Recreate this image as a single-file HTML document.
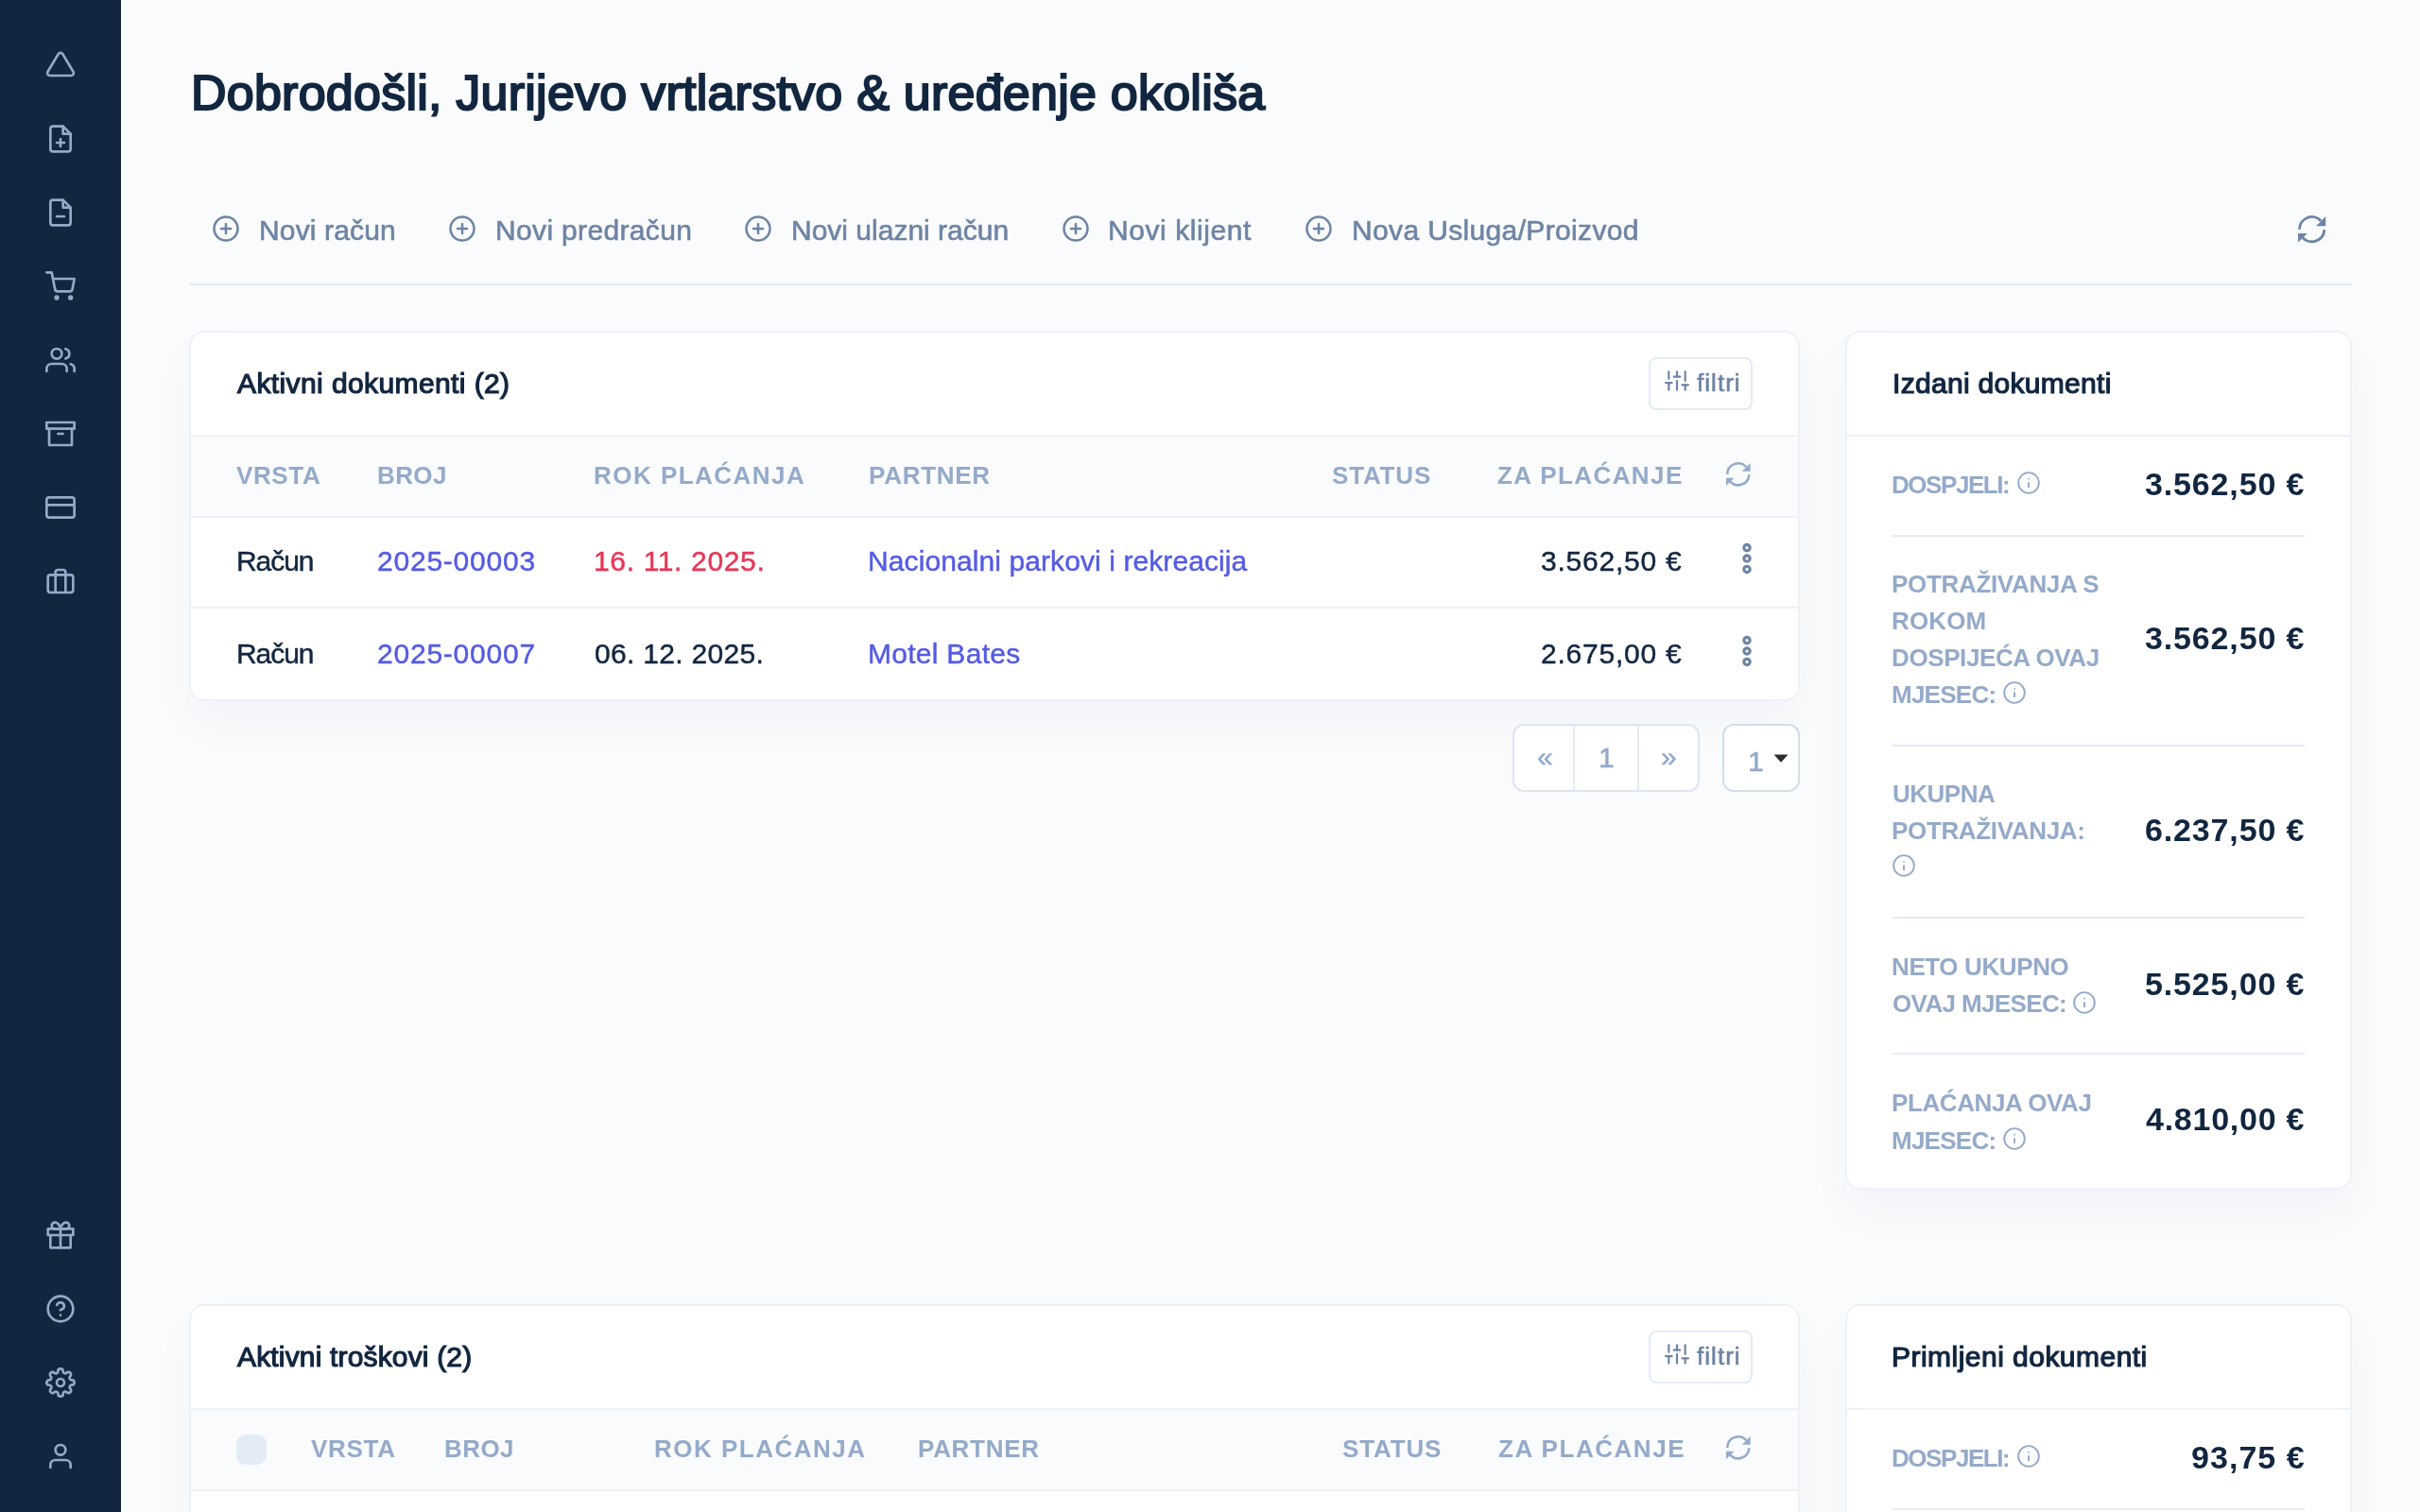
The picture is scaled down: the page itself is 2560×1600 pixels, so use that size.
<!DOCTYPE html>
<html lang="hr">
<head>
<meta charset="utf-8">
<title>Nadzorna ploča</title>
<style>
*{box-sizing:border-box}
html,body{margin:0;padding:0}
body{width:2560px;height:1600px;overflow:hidden;position:relative;background:#F9FBFD;color:#12263F;
 font-family:"Liberation Sans",sans-serif;font-size:30px;-webkit-font-smoothing:antialiased}
.t{position:absolute;white-space:pre;line-height:1;margin:0;font-weight:400;will-change:transform}
a.t{text-decoration:none}
.fe{position:absolute;display:block;overflow:visible}
#sidebar{position:absolute;left:0;top:0;width:128px;height:1600px;background:#12263F}
.hr{position:absolute;height:2px;background:#E3EBF6}
.card{position:absolute;background:#fff;border:2px solid #EDF2F9;border-radius:16px;box-shadow:0 24px 48px rgba(18,38,63,.03)}
.line{position:absolute;left:0;right:0;height:2px;background:#EDF2F9}
.thead{position:absolute;left:0;right:0;background:#F9FBFD}
.btn{position:absolute;border:2px solid #E3EBF6;border-radius:8px;background:#fff}
.pg{position:absolute;border:2px solid #E3EBF6;background:#fff}
.chk{position:absolute;width:32px;height:32px;border-radius:10px;background:#E3EBF6}
</style>
</head>
<body>

<nav id="sidebar">
<svg class="fe" style="left:48.00px;top:52.00px;width:32px;height:32px;color:#95AAC9" viewBox="0 0 24 24" fill="none" stroke="currentColor" stroke-width="2" stroke-linecap="round" stroke-linejoin="round"><path d="M10.29 3.86L1.82 18a2 2 0 0 0 1.71 3h16.94a2 2 0 0 0 1.71-3L13.71 3.86a2 2 0 0 0-3.42 0z"/></svg>
<svg class="fe" style="left:48.00px;top:130.60px;width:32px;height:32px;color:#95AAC9" viewBox="0 0 24 24" fill="none" stroke="currentColor" stroke-width="2" stroke-linecap="round" stroke-linejoin="round"><path d="M14 2H6a2 2 0 0 0-2 2v16a2 2 0 0 0 2 2h12a2 2 0 0 0 2-2V8z"/><polyline points="14 2 14 8 20 8"/><line x1="12" y1="18" x2="12" y2="12"/><line x1="9" y1="15" x2="15" y2="15"/></svg>
<svg class="fe" style="left:48.00px;top:208.60px;width:32px;height:32px;color:#95AAC9" viewBox="0 0 24 24" fill="none" stroke="currentColor" stroke-width="2" stroke-linecap="round" stroke-linejoin="round"><path d="M14 2H6a2 2 0 0 0-2 2v16a2 2 0 0 0 2 2h12a2 2 0 0 0 2-2V8z"/><polyline points="14 2 14 8 20 8"/><line x1="9" y1="15" x2="15" y2="15"/></svg>
<svg class="fe" style="left:48.00px;top:286.60px;width:32px;height:32px;color:#95AAC9" viewBox="0 0 24 24" fill="none" stroke="currentColor" stroke-width="2" stroke-linecap="round" stroke-linejoin="round"><circle cx="9" cy="21" r="1"/><circle cx="20" cy="21" r="1"/><path d="M1 1h4l2.68 13.39a2 2 0 0 0 2 1.61h9.72a2 2 0 0 0 2-1.61L23 6H6"/></svg>
<svg class="fe" style="left:48.00px;top:364.60px;width:32px;height:32px;color:#95AAC9" viewBox="0 0 24 24" fill="none" stroke="currentColor" stroke-width="2" stroke-linecap="round" stroke-linejoin="round"><path d="M17 21v-2a4 4 0 0 0-4-4H5a4 4 0 0 0-4 4v2"/><circle cx="9" cy="7" r="4"/><path d="M23 21v-2a4 4 0 0 0-3-3.87"/><path d="M16 3.13a4 4 0 0 1 0 7.75"/></svg>
<svg class="fe" style="left:48.00px;top:442.60px;width:32px;height:32px;color:#95AAC9" viewBox="0 0 24 24" fill="none" stroke="currentColor" stroke-width="2" stroke-linecap="round" stroke-linejoin="round"><polyline points="21 8 21 21 3 21 3 8"/><rect x="1" y="3" width="22" height="5"/><line x1="10" y1="12" x2="14" y2="12"/></svg>
<svg class="fe" style="left:48.00px;top:520.60px;width:32px;height:32px;color:#95AAC9" viewBox="0 0 24 24" fill="none" stroke="currentColor" stroke-width="2" stroke-linecap="round" stroke-linejoin="round"><rect x="1" y="4" width="22" height="16" rx="2" ry="2"/><line x1="1" y1="10" x2="23" y2="10"/></svg>
<svg class="fe" style="left:48.00px;top:598.60px;width:32px;height:32px;color:#95AAC9" viewBox="0 0 24 24" fill="none" stroke="currentColor" stroke-width="2" stroke-linecap="round" stroke-linejoin="round"><rect x="2" y="7" width="20" height="14" rx="2" ry="2"/><path d="M16 21V5a2 2 0 0 0-2-2h-4a2 2 0 0 0-2 2v16"/></svg>
<svg class="fe" style="left:48.00px;top:1291.10px;width:32px;height:32px;color:#95AAC9" viewBox="0 0 24 24" fill="none" stroke="currentColor" stroke-width="2" stroke-linecap="round" stroke-linejoin="round"><polyline points="20 12 20 22 4 22 4 12"/><rect x="2" y="7" width="20" height="5"/><line x1="12" y1="22" x2="12" y2="7"/><path d="M12 7H7.5a2.5 2.5 0 0 1 0-5C11 2 12 7 12 7z"/><path d="M12 7h4.5a2.5 2.5 0 0 0 0-5C13 2 12 7 12 7z"/></svg>
<svg class="fe" style="left:48.00px;top:1369.10px;width:32px;height:32px;color:#95AAC9" viewBox="0 0 24 24" fill="none" stroke="currentColor" stroke-width="2" stroke-linecap="round" stroke-linejoin="round"><circle cx="12" cy="12" r="10"/><path d="M9.09 9a3 3 0 0 1 5.83 1c0 2-3 3-3 3"/><line x1="12" y1="17" x2="12.01" y2="17"/></svg>
<svg class="fe" style="left:48.00px;top:1447.10px;width:32px;height:32px;color:#95AAC9" viewBox="0 0 24 24" fill="none" stroke="currentColor" stroke-width="2" stroke-linecap="round" stroke-linejoin="round"><circle cx="12" cy="12" r="3"/><path d="M19.4 15a1.65 1.65 0 0 0 .33 1.82l.06.06a2 2 0 0 1 0 2.83 2 2 0 0 1-2.83 0l-.06-.06a1.65 1.65 0 0 0-1.82-.33 1.65 1.65 0 0 0-1 1.51V21a2 2 0 0 1-2 2 2 2 0 0 1-2-2v-.09A1.65 1.65 0 0 0 9 19.4a1.65 1.65 0 0 0-1.82.33l-.06.06a2 2 0 0 1-2.83 0 2 2 0 0 1 0-2.83l.06-.06a1.65 1.65 0 0 0 .33-1.82 1.65 1.65 0 0 0-1.51-1H3a2 2 0 0 1-2-2 2 2 0 0 1 2-2h.09A1.65 1.65 0 0 0 4.6 9a1.65 1.65 0 0 0-.33-1.82l-.06-.06a2 2 0 0 1 0-2.83 2 2 0 0 1 2.83 0l.06.06a1.65 1.65 0 0 0 1.82.33H9a1.65 1.65 0 0 0 1-1.51V3a2 2 0 0 1 2-2 2 2 0 0 1 2 2v.09a1.65 1.65 0 0 0 1 1.51 1.65 1.65 0 0 0 1.82-.33l.06-.06a2 2 0 0 1 2.83 0 2 2 0 0 1 0 2.83l-.06.06a1.65 1.65 0 0 0-.33 1.82V9a1.65 1.65 0 0 0 1.51 1H21a2 2 0 0 1 2 2 2 2 0 0 1-2 2h-.09a1.65 1.65 0 0 0-1.51 1z"/></svg>
<svg class="fe" style="left:48.00px;top:1525.10px;width:32px;height:32px;color:#95AAC9" viewBox="0 0 24 24" fill="none" stroke="currentColor" stroke-width="2" stroke-linecap="round" stroke-linejoin="round"><path d="M20 21v-2a4 4 0 0 0-4-4H8a4 4 0 0 0-4 4v2"/><circle cx="12" cy="7" r="4"/></svg>
</nav>
<header>
<h1 id="title" class="t" style="top:71.78px;font-size:52px;color:#12263F;letter-spacing:0.241px;-webkit-text-stroke:2.1px #12263F;left:201.80px;">Dobrodošli, Jurijevo vrtlarstvo &amp; uređenje okoliša</h1>
<svg class="fe" style="left:224.10px;top:226.90px;width:30px;height:30px;color:#6E84A3" viewBox="0 0 24 24" fill="none" stroke="currentColor" stroke-width="2" stroke-linecap="round" stroke-linejoin="round"><circle cx="12" cy="12" r="10"/><line x1="12" y1="8" x2="12" y2="16"/><line x1="8" y1="12" x2="16" y2="12"/></svg>
<a id="a1" class="t" style="top:228.60px;font-size:30px;color:#6E84A3;letter-spacing:0.144px;-webkit-text-stroke:0.6px #6E84A3;left:274.00px;">Novi račun</a>
<svg class="fe" style="left:474.20px;top:226.90px;width:30px;height:30px;color:#6E84A3" viewBox="0 0 24 24" fill="none" stroke="currentColor" stroke-width="2" stroke-linecap="round" stroke-linejoin="round"><circle cx="12" cy="12" r="10"/><line x1="12" y1="8" x2="12" y2="16"/><line x1="8" y1="12" x2="16" y2="12"/></svg>
<a id="a2" class="t" style="top:228.60px;font-size:30px;color:#6E84A3;letter-spacing:0.346px;-webkit-text-stroke:0.6px #6E84A3;left:524.00px;">Novi predračun</a>
<svg class="fe" style="left:787.40px;top:226.90px;width:30px;height:30px;color:#6E84A3" viewBox="0 0 24 24" fill="none" stroke="currentColor" stroke-width="2" stroke-linecap="round" stroke-linejoin="round"><circle cx="12" cy="12" r="10"/><line x1="12" y1="8" x2="12" y2="16"/><line x1="8" y1="12" x2="16" y2="12"/></svg>
<a id="a3" class="t" style="top:228.60px;font-size:30px;color:#6E84A3;-webkit-text-stroke:0.6px #6E84A3;left:837.00px;">Novi ulazni račun</a>
<svg class="fe" style="left:1122.90px;top:226.90px;width:30px;height:30px;color:#6E84A3" viewBox="0 0 24 24" fill="none" stroke="currentColor" stroke-width="2" stroke-linecap="round" stroke-linejoin="round"><circle cx="12" cy="12" r="10"/><line x1="12" y1="8" x2="12" y2="16"/><line x1="8" y1="12" x2="16" y2="12"/></svg>
<a id="a4" class="t" style="top:228.60px;font-size:30px;color:#6E84A3;letter-spacing:0.564px;-webkit-text-stroke:0.6px #6E84A3;left:1172.00px;">Novi klijent</a>
<svg class="fe" style="left:1380.00px;top:226.90px;width:30px;height:30px;color:#6E84A3" viewBox="0 0 24 24" fill="none" stroke="currentColor" stroke-width="2" stroke-linecap="round" stroke-linejoin="round"><circle cx="12" cy="12" r="10"/><line x1="12" y1="8" x2="12" y2="16"/><line x1="8" y1="12" x2="16" y2="12"/></svg>
<a id="a5" class="t" style="top:228.60px;font-size:30px;color:#6E84A3;letter-spacing:0.353px;-webkit-text-stroke:0.6px #6E84A3;left:1429.80px;">Nova Usluga/Proizvod</a>
<svg class="fe" style="left:2430.90px;top:227.90px;width:29.2px;height:29.2px;color:#6E84A3" viewBox="0 0 24 24"><path d="M1.2 12.2A10.8 10.8 0 0 1 19.9 4.7" fill="none" stroke="currentColor" stroke-width="2.4"/><polygon points="24,0.9 24,9.2 15.7,9.2" fill="currentColor"/><path d="M22.8 12.4A10.8 10.8 0 0 1 4.1 19.3" fill="none" stroke="currentColor" stroke-width="2.4"/><polygon points="0,15.7 8.1,15.7 0,23.4" fill="currentColor"/></svg>
<div class="hr" style="left:200px;top:300px;width:2288px"></div>
</header>
<section class="card" style="left:200px;top:350px;width:1704px;height:392px">
</section>
<div class="thead" style="left:202px;width:1700px;top:462px;height:84px"></div>
<div class="hr" style="left:202px;width:1700px;top:460px;background:#EDF2F9"></div>
<div class="hr" style="left:202px;width:1700px;top:546px;background:#EDF2F9"></div>
<h4 id="c1title" class="t" style="top:390.61px;font-size:30px;color:#12263F;letter-spacing:0.400px;-webkit-text-stroke:1.2px #12263F;left:251.00px;">Aktivni dokumenti (2)</h4>
<div class="btn" style="left:1744px;top:378px;width:110px;height:56px"></div>
<svg class="fe" style="left:1761.30px;top:390.00px;width:26px;height:26px;color:#6E84A3" viewBox="0 0 24 24" fill="none" stroke="currentColor" stroke-width="2" stroke-linecap="round" stroke-linejoin="round"><line x1="4" y1="21" x2="4" y2="14"/><line x1="4" y1="10" x2="4" y2="3"/><line x1="12" y1="21" x2="12" y2="12"/><line x1="12" y1="8" x2="12" y2="3"/><line x1="20" y1="21" x2="20" y2="16"/><line x1="20" y1="12" x2="20" y2="3"/><line x1="1" y1="14" x2="7" y2="14"/><line x1="9" y1="8" x2="15" y2="8"/><line x1="17" y1="16" x2="23" y2="16"/></svg>
<span id="c1filtri" class="t" style="top:391.59px;font-size:26px;color:#6E84A3;letter-spacing:1.040px;-webkit-text-stroke:0.6px #6E84A3;left:1794.60px;">filtri</span>
<span id="c1h1" class="t" style="top:489.99px;font-size:26px;color:#95AAC9;font-weight:700;letter-spacing:0.625px;left:250.00px;">VRSTA</span>
<span id="c1h2" class="t" style="top:489.99px;font-size:26px;color:#95AAC9;font-weight:700;letter-spacing:0.400px;left:398.60px;">BROJ</span>
<span id="c1h3" class="t" style="top:489.99px;font-size:26px;color:#95AAC9;font-weight:700;letter-spacing:1.473px;left:628.20px;">ROK PLAĆANJA</span>
<span id="c1h4" class="t" style="top:489.99px;font-size:26px;color:#95AAC9;font-weight:700;letter-spacing:0.733px;left:918.80px;">PARTNER</span>
<span id="c1h5" class="t" style="top:489.99px;font-size:26px;color:#95AAC9;font-weight:700;letter-spacing:0.820px;left:1409.40px;">STATUS</span>
<span id="c1h6" class="t" style="top:489.99px;font-size:26px;color:#95AAC9;font-weight:700;letter-spacing:1.420px;left:1584.20px;">ZA PLAĆANJE</span>
<svg class="fe" style="left:1826.20px;top:489.10px;width:25.6px;height:25.6px;color:#95AAC9" viewBox="0 0 24 24"><path d="M1.2 12.2A10.8 10.8 0 0 1 19.9 4.7" fill="none" stroke="currentColor" stroke-width="2.4"/><polygon points="24,0.9 24,9.2 15.7,9.2" fill="currentColor"/><path d="M22.8 12.4A10.8 10.8 0 0 1 4.1 19.3" fill="none" stroke="currentColor" stroke-width="2.4"/><polygon points="0,15.7 8.1,15.7 0,23.4" fill="currentColor"/></svg>
<div class="hr" style="left:202px;width:1700px;top:642px;background:#EDF2F9"></div>
<span id="r0a" class="t" style="top:578.61px;font-size:30px;color:#12263F;letter-spacing:-1.050px;-webkit-text-stroke:0.45px #12263F;left:250.00px;">Račun</span>
<a id="r0b" class="t" style="top:578.61px;font-size:30px;color:#555BE3;letter-spacing:0.778px;-webkit-text-stroke:0.45px #555BE3;left:399.00px;">2025-00003</a>
<span id="r0c" class="t" style="top:578.61px;font-size:30px;color:#E63757;letter-spacing:0.650px;-webkit-text-stroke:0.45px #E63757;left:628.00px;">16. 11. 2025.</span>
<a id="r0d" class="t" style="top:578.61px;font-size:30px;color:#555BE3;letter-spacing:0.093px;-webkit-text-stroke:0.45px #555BE3;left:918.00px;">Nacionalni parkovi i rekreacija</a>
<span id="r0e" class="t" style="top:578.61px;font-size:30px;color:#12263F;letter-spacing:0.778px;-webkit-text-stroke:0.45px #12263F;left:1630.00px;">3.562,50 €</span>
<svg class="fe" style="left:1841.70px;top:573.40px;width:12px;height:36px;color:#6E84A3" viewBox="0 0 12 36" fill="none" stroke="currentColor" stroke-width="3.15"><circle cx="6" cy="6.6" r="3.18"/><circle cx="6" cy="18" r="3.18"/><circle cx="6" cy="29.4" r="3.18"/></svg>
<span id="r1a" class="t" style="top:676.61px;font-size:30px;color:#12263F;letter-spacing:-1.050px;-webkit-text-stroke:0.45px #12263F;left:250.00px;">Račun</span>
<a id="r1b" class="t" style="top:676.61px;font-size:30px;color:#555BE3;letter-spacing:0.778px;-webkit-text-stroke:0.45px #555BE3;left:399.00px;">2025-00007</a>
<span id="r1c" class="t" style="top:676.61px;font-size:30px;color:#12263F;letter-spacing:0.317px;-webkit-text-stroke:0.45px #12263F;left:629.00px;">06. 12. 2025.</span>
<a id="r1d" class="t" style="top:676.61px;font-size:30px;color:#555BE3;letter-spacing:0.280px;-webkit-text-stroke:0.45px #555BE3;left:918.00px;">Motel Bates</a>
<span id="r1e" class="t" style="top:676.61px;font-size:30px;color:#12263F;letter-spacing:0.778px;-webkit-text-stroke:0.45px #12263F;left:1630.00px;">2.675,00 €</span>
<svg class="fe" style="left:1841.70px;top:671.40px;width:12px;height:36px;color:#6E84A3" viewBox="0 0 12 36" fill="none" stroke="currentColor" stroke-width="3.15"><circle cx="6" cy="6.6" r="3.18"/><circle cx="6" cy="18" r="3.18"/><circle cx="6" cy="29.4" r="3.18"/></svg>
<div class="pg" style="left:1600px;top:766px;width:198px;height:72px;border-radius:12px;border-color:#DCE5F2"></div>
<div style="position:absolute;left:1664px;top:768px;width:2px;height:68px;background:#E3EBF6"></div>
<div style="position:absolute;left:1732px;top:768px;width:2px;height:68px;background:#E3EBF6"></div>
<span id="pg1" class="t" style="top:786.21px;font-size:30px;color:#95AAC9;-webkit-text-stroke:0.5px #95AAC9;left:1626.10px;">«</span>
<span id="pg2" class="t" style="top:786.61px;font-size:30px;color:#95AAC9;-webkit-text-stroke:0.5px #95AAC9;left:1691.20px;">1</span>
<span id="pg3" class="t" style="top:786.21px;font-size:30px;color:#95AAC9;-webkit-text-stroke:0.5px #95AAC9;left:1757.30px;">»</span>
<div class="pg" style="left:1822px;top:766px;width:82px;height:72px;border-radius:12px;border-color:#D2DDEC"></div>
<span id="sel" class="t" style="top:790.61px;font-size:30px;color:#95AAC9;-webkit-text-stroke:0.5px #95AAC9;left:1848.90px;">1</span>
<svg class="fe" style="left:1876px;top:797.5px;width:16px;height:9px" viewBox="0 0 16 9"><path d="M0.5 0.5h15L8 8.8z" fill="#2b2b2b"/></svg>
<section class="card" style="left:200px;top:1380px;width:1704px;height:400px">
</section>
<div class="thead" style="left:202px;width:1700px;top:1492px;height:84px"></div>
<div class="hr" style="left:202px;width:1700px;top:1490px;background:#EDF2F9"></div>
<div class="hr" style="left:202px;width:1700px;top:1576px;background:#EDF2F9"></div>
<h4 id="c2title" class="t" style="top:1420.61px;font-size:30px;color:#12263F;letter-spacing:0.163px;-webkit-text-stroke:1.2px #12263F;left:251.00px;">Aktivni troškovi (2)</h4>
<div class="btn" style="left:1744px;top:1408px;width:110px;height:56px"></div>
<svg class="fe" style="left:1761.30px;top:1420.00px;width:26px;height:26px;color:#6E84A3" viewBox="0 0 24 24" fill="none" stroke="currentColor" stroke-width="2" stroke-linecap="round" stroke-linejoin="round"><line x1="4" y1="21" x2="4" y2="14"/><line x1="4" y1="10" x2="4" y2="3"/><line x1="12" y1="21" x2="12" y2="12"/><line x1="12" y1="8" x2="12" y2="3"/><line x1="20" y1="21" x2="20" y2="16"/><line x1="20" y1="12" x2="20" y2="3"/><line x1="1" y1="14" x2="7" y2="14"/><line x1="9" y1="8" x2="15" y2="8"/><line x1="17" y1="16" x2="23" y2="16"/></svg>
<span id="c2filtri" class="t" style="top:1421.59px;font-size:26px;color:#6E84A3;letter-spacing:1.040px;-webkit-text-stroke:0.6px #6E84A3;left:1794.60px;">filtri</span>
<div class="chk" style="left:250px;top:1518px"></div>
<span id="c2h1" class="t" style="top:1519.99px;font-size:26px;color:#95AAC9;font-weight:700;letter-spacing:0.700px;left:329.40px;">VRSTA</span>
<span id="c2h2" class="t" style="top:1519.99px;font-size:26px;color:#95AAC9;font-weight:700;letter-spacing:0.433px;left:470.40px;">BROJ</span>
<span id="c2h3" class="t" style="top:1519.99px;font-size:26px;color:#95AAC9;font-weight:700;letter-spacing:1.500px;left:692.00px;">ROK PLAĆANJA</span>
<span id="c2h4" class="t" style="top:1519.99px;font-size:26px;color:#95AAC9;font-weight:700;letter-spacing:0.717px;left:971.40px;">PARTNER</span>
<span id="c2h5" class="t" style="top:1519.99px;font-size:26px;color:#95AAC9;font-weight:700;letter-spacing:0.860px;left:1420.40px;">STATUS</span>
<span id="c2h6" class="t" style="top:1519.99px;font-size:26px;color:#95AAC9;font-weight:700;letter-spacing:1.550px;left:1584.60px;">ZA PLAĆANJE</span>
<svg class="fe" style="left:1826.20px;top:1519.10px;width:25.6px;height:25.6px;color:#95AAC9" viewBox="0 0 24 24"><path d="M1.2 12.2A10.8 10.8 0 0 1 19.9 4.7" fill="none" stroke="currentColor" stroke-width="2.4"/><polygon points="24,0.9 24,9.2 15.7,9.2" fill="currentColor"/><path d="M22.8 12.4A10.8 10.8 0 0 1 4.1 19.3" fill="none" stroke="currentColor" stroke-width="2.4"/><polygon points="0,15.7 8.1,15.7 0,23.4" fill="currentColor"/></svg>
<section class="card" style="left:1952px;top:350px;width:536px;height:909px"></section>
<div class="hr" style="left:1954px;width:532px;top:460px;background:#EDF2F9"></div>
<h4 id="s1title" class="t" style="top:390.61px;font-size:30px;color:#12263F;letter-spacing:0.300px;-webkit-text-stroke:1.2px #12263F;left:2002.00px;">Izdani dokumenti</h4>
<div class="hr" style="left:2002px;width:436px;top:566px"></div>
<div class="hr" style="left:2002px;width:436px;top:788px"></div>
<div class="hr" style="left:2002px;width:436px;top:970px"></div>
<div class="hr" style="left:2002px;width:436px;top:1114px"></div>
<span id="l1" class="t" style="top:499.99px;font-size:26px;color:#95AAC9;font-weight:700;letter-spacing:-1.438px;left:2001.00px;">DOSPJELI:</span>
<svg class="fe" style="left:2132.80px;top:497.60px;width:26px;height:26px;color:#95AAC9" viewBox="0 0 24 24" fill="none" stroke="currentColor" stroke-width="1.75" stroke-linecap="round" stroke-linejoin="round"><circle cx="12" cy="12" r="10"/><line x1="12" y1="16" x2="12" y2="12"/><line x1="12" y1="8" x2="12.01" y2="8"/></svg>
<span id="v1" class="t" style="top:495.12px;font-size:34px;color:#12263F;font-weight:700;letter-spacing:0.856px;left:2269.20px;">3.562,50 €</span>
<span id="l2a" class="t" style="top:604.99px;font-size:26px;color:#95AAC9;font-weight:700;letter-spacing:-0.323px;left:2001.00px;">POTRAŽIVANJA S</span>
<span id="l2b" class="t" style="top:643.99px;font-size:26px;color:#95AAC9;font-weight:700;letter-spacing:0.125px;left:2001.00px;">ROKOM</span>
<span id="l2c" class="t" style="top:683.49px;font-size:26px;color:#95AAC9;font-weight:700;letter-spacing:-0.400px;left:2001.00px;">DOSPIJEĆA OVAJ</span>
<span id="l2d" class="t" style="top:722.49px;font-size:26px;color:#95AAC9;font-weight:700;letter-spacing:-0.750px;left:2001.00px;">MJESEC:</span>
<svg class="fe" style="left:2117.60px;top:720.10px;width:26px;height:26px;color:#95AAC9" viewBox="0 0 24 24" fill="none" stroke="currentColor" stroke-width="1.75" stroke-linecap="round" stroke-linejoin="round"><circle cx="12" cy="12" r="10"/><line x1="12" y1="16" x2="12" y2="12"/><line x1="12" y1="8" x2="12.01" y2="8"/></svg>
<span id="v2" class="t" style="top:657.82px;font-size:34px;color:#12263F;font-weight:700;letter-spacing:0.856px;left:2269.20px;">3.562,50 €</span>
<span id="l3a" class="t" style="top:827.49px;font-size:26px;color:#95AAC9;font-weight:700;letter-spacing:-0.500px;left:2002.00px;">UKUPNA</span>
<span id="l3b" class="t" style="top:866.39px;font-size:26px;color:#95AAC9;font-weight:700;letter-spacing:-0.342px;left:2001.00px;">POTRAŽIVANJA:</span>
<svg class="fe" style="left:2001.30px;top:903.10px;width:26px;height:26px;color:#95AAC9" viewBox="0 0 24 24" fill="none" stroke="currentColor" stroke-width="1.75" stroke-linecap="round" stroke-linejoin="round"><circle cx="12" cy="12" r="10"/><line x1="12" y1="16" x2="12" y2="12"/><line x1="12" y1="8" x2="12.01" y2="8"/></svg>
<span id="v3" class="t" style="top:860.92px;font-size:34px;color:#12263F;font-weight:700;letter-spacing:0.856px;left:2269.20px;">6.237,50 €</span>
<span id="l4a" class="t" style="top:1009.99px;font-size:26px;color:#95AAC9;font-weight:700;letter-spacing:-0.390px;left:2001.00px;">NETO UKUPNO</span>
<span id="l4b" class="t" style="top:1049.19px;font-size:26px;color:#95AAC9;font-weight:700;letter-spacing:-0.627px;left:2002.00px;">OVAJ MJESEC:</span>
<svg class="fe" style="left:2191.80px;top:1047.60px;width:26px;height:26px;color:#95AAC9" viewBox="0 0 24 24" fill="none" stroke="currentColor" stroke-width="1.75" stroke-linecap="round" stroke-linejoin="round"><circle cx="12" cy="12" r="10"/><line x1="12" y1="16" x2="12" y2="12"/><line x1="12" y1="8" x2="12.01" y2="8"/></svg>
<span id="v4" class="t" style="top:1023.92px;font-size:34px;color:#12263F;font-weight:700;letter-spacing:0.856px;left:2269.20px;">5.525,00 €</span>
<span id="l5a" class="t" style="top:1153.99px;font-size:26px;color:#95AAC9;font-weight:700;letter-spacing:-0.400px;left:2001.00px;">PLAĆANJA OVAJ</span>
<span id="l5b" class="t" style="top:1193.99px;font-size:26px;color:#95AAC9;font-weight:700;letter-spacing:-0.750px;left:2001.00px;">MJESEC:</span>
<svg class="fe" style="left:2117.60px;top:1192.10px;width:26px;height:26px;color:#95AAC9" viewBox="0 0 24 24" fill="none" stroke="currentColor" stroke-width="1.75" stroke-linecap="round" stroke-linejoin="round"><circle cx="12" cy="12" r="10"/><line x1="12" y1="16" x2="12" y2="12"/><line x1="12" y1="8" x2="12.01" y2="8"/></svg>
<span id="v5" class="t" style="top:1167.12px;font-size:34px;color:#12263F;font-weight:700;letter-spacing:0.744px;left:2270.20px;">4.810,00 €</span>
<section class="card" style="left:1952px;top:1380px;width:536px;height:400px"></section>
<div class="hr" style="left:1954px;width:532px;top:1490px;background:#EDF2F9"></div>
<h4 id="s2title" class="t" style="top:1420.61px;font-size:30px;color:#12263F;letter-spacing:0.472px;-webkit-text-stroke:1.2px #12263F;left:2001.00px;">Primljeni dokumenti</h4>
<span id="m1" class="t" style="top:1529.99px;font-size:26px;color:#95AAC9;font-weight:700;letter-spacing:-1.438px;left:2001.00px;">DOSPJELI:</span>
<svg class="fe" style="left:2132.80px;top:1527.60px;width:26px;height:26px;color:#95AAC9" viewBox="0 0 24 24" fill="none" stroke="currentColor" stroke-width="1.75" stroke-linecap="round" stroke-linejoin="round"><circle cx="12" cy="12" r="10"/><line x1="12" y1="16" x2="12" y2="12"/><line x1="12" y1="8" x2="12.01" y2="8"/></svg>
<span id="w1" class="t" style="top:1525.12px;font-size:34px;color:#12263F;font-weight:700;letter-spacing:1.050px;left:2318.00px;">93,75 €</span>
<div class="hr" style="left:2002px;width:436px;top:1596px"></div>
</body></html>
